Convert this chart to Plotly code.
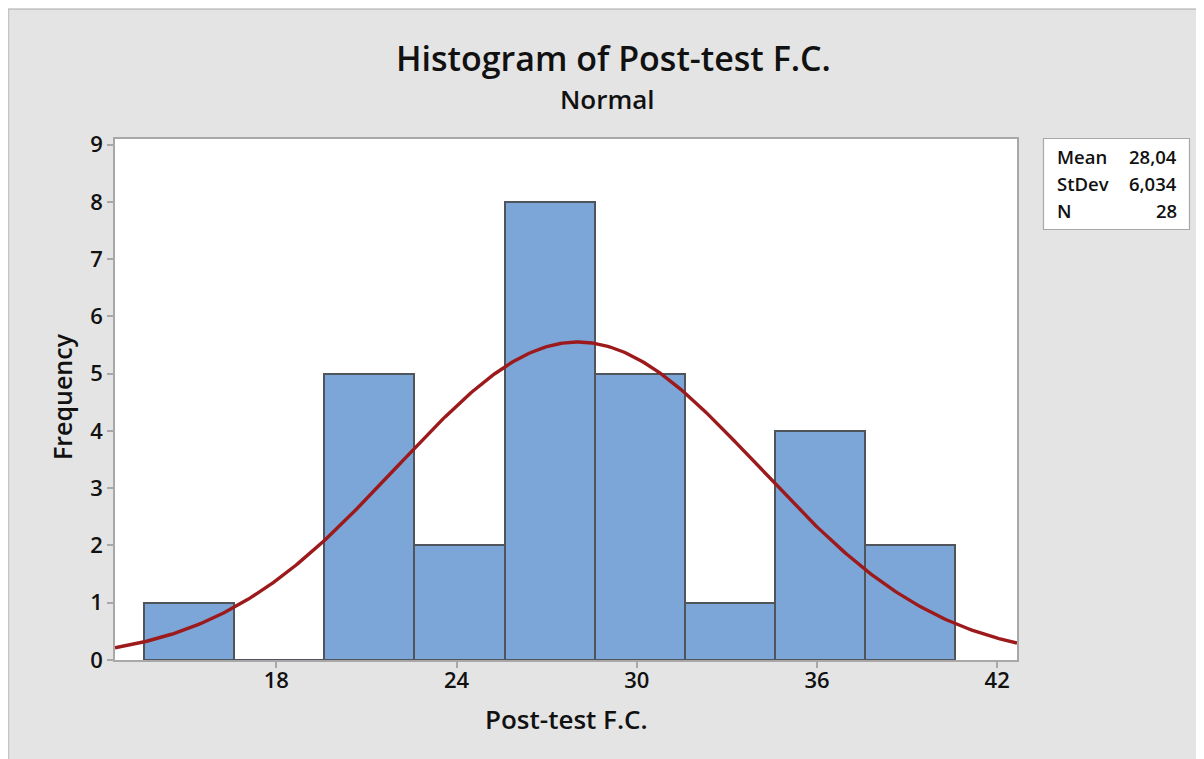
import numpy as np
import plotly.graph_objects as go

# ---- data ----
bin_mids = [15.1, 18.1, 21.1, 24.1, 27.1, 30.1, 33.1, 36.1, 39.1]
counts = [1, 0, 5, 2, 8, 5, 1, 4, 2]
bin_width = 3.0
x_ticks = [18, 24, 30, 36, 42]
y_ticks = [0, 1, 2, 3, 4, 5, 6, 7, 8, 9]
mean_val = 28.04
sd_val = 6.034
n_val = 28
stat_labels = ["Mean", "StDev", "N"]
stat_values = ["28,04", "6,034", "28"]

# figure sits at page offset (8, 8) because of the body margin
W, H = 1196, 751
L, R, T, B = 107, 1009, 131, 652
xr = [12.63, 42.66]
yr = [0, 9.1]

FONT = "Open Sans"
TXT = "#111111"

# fitted normal curve (from stated mean / stdev)
xc = np.linspace(xr[0], xr[1], 400)
yc = n_val * bin_width * np.exp(-0.5 * ((xc - mean_val) / sd_val) ** 2) / (sd_val * np.sqrt(2 * np.pi))

fig = go.Figure()
fig.add_trace(go.Bar(
    x=bin_mids, y=counts, width=[bin_width] * len(bin_mids),
    marker=dict(color="#7ca6d8", line=dict(color="#50555c", width=2)),
    showlegend=False, hoverinfo="x+y",
))
fig.add_trace(go.Scatter(
    x=xc, y=yc, mode="lines", line=dict(color="#9c1a1c", width=3.4),
    showlegend=False, hoverinfo="skip",
))

def px(xp):
    return (xp - L) / (R - L)

def py(yp):
    return (B - yp) / (B - T)

shapes = [
    dict(type="line", xref="paper", yref="paper", x0=px(0.5), x1=px(0.5), y0=py(1), y1=py(H + 5),
         line=dict(color="#c4c4c4", width=1.5), layer="above"),
    dict(type="line", xref="paper", yref="paper", x0=px(0), x1=px(W + 5), y0=py(1.2), y1=py(1.2),
         line=dict(color="#c4c4c4", width=1.5), layer="above"),
    # stats box
    dict(type="rect", xref="paper", yref="paper", x0=px(1035.5), x1=px(1181.5), y0=py(221.5), y1=py(130.5),
         fillcolor="white", line=dict(color="#a8a8a8", width=1.2), layer="above"),
]

def ann(text, x, y, size, xanchor="center", angle=0):
    return dict(text=text, x=px(x), y=py(y), xref="paper", yref="paper",
                showarrow=False, xanchor=xanchor, yanchor="middle", textangle=angle,
                font=dict(family=FONT, size=size, color=TXT, weight=600))

annotations = [
    ann("Histogram of Post-test F.C.", 605, 50, 34),
    ann("Normal", 599, 91, 26),
    ann("Post-test F.C.", 558, 711, 26),
    ann("Frequency", 54, 389, 25, angle=-90),
]
row_y = [149, 175, 202]
for lab, val, ry in zip(stat_labels, stat_values, row_y):
    annotations.append(ann(lab, 1047, ry, 18.5, xanchor="left"))
    annotations.append(ann(val, 1171, ry, 18.5, xanchor="right"))

fig.update_layout(
    width=W, height=H,
    margin=dict(l=L, r=W - R, t=T, b=H - B, pad=0),
    paper_bgcolor="#e4e4e4", plot_bgcolor="white",
    bargap=0,
    shapes=shapes, annotations=annotations,
    xaxis=dict(
        range=xr, tickvals=x_ticks, ticktext=[str(v) for v in x_ticks],
        showgrid=False, zeroline=False,
        showline=True, linecolor="#a8a8a8", linewidth=1.5, mirror=True,
        ticks="outside", ticklen=6, tickwidth=1.5, tickcolor="#a8a8a8",
        ticklabelstandoff=-6,
        tickfont=dict(family=FONT, size=22, color=TXT, weight=600),
    ),
    yaxis=dict(
        range=yr, tickvals=y_ticks, ticktext=[str(v) for v in y_ticks],
        showgrid=False, zeroline=False,
        showline=True, linecolor="#a8a8a8", linewidth=1.5, mirror=True,
        ticks="outside", ticklen=6, tickwidth=1.5, tickcolor="#a8a8a8",
        tickfont=dict(family=FONT, size=22, color=TXT, weight=600),
    ),
)

fig.write_html("out.html")
